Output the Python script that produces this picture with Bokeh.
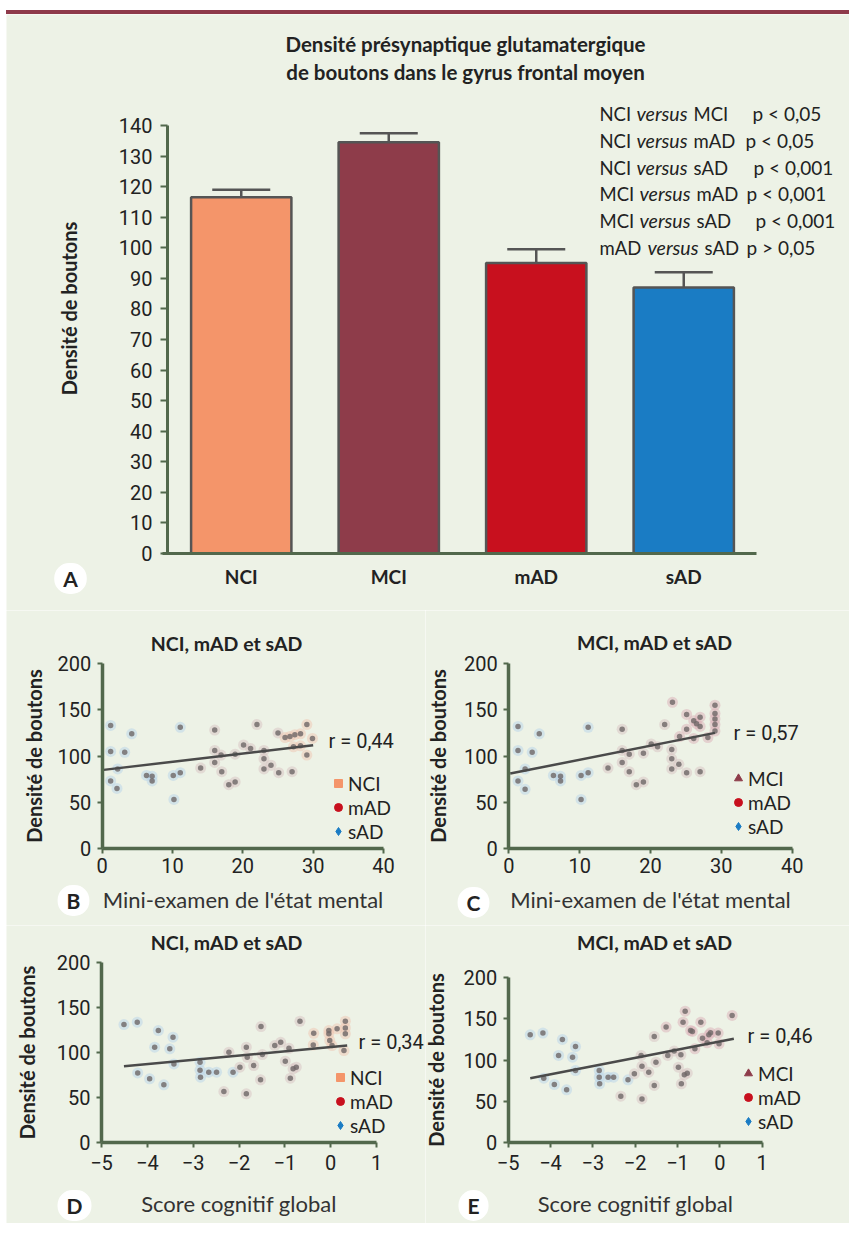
import numpy as np
from bokeh.plotting import figure
from bokeh.models import (Label, Legend, LegendItem, FixedTicker, Range1d, LinearAxis,
                          ColumnDataSource, Div, Whisker, TeeHead)
from bokeh.layouts import column, row
from bokeh.embed import file_html
from bokeh.resources import INLINE

# ---------------- data: panel A ----------------
bar_groups = ["NCI", "MCI", "mAD", "sAD"]
bar_means = [116.5, 134.5, 95.0, 87.0]
bar_sem = [2.5, 3.0, 4.5, 5.0]
bar_yticks = list(range(0, 141, 10))

cmp_first = ["NCI", "NCI", "NCI", "MCI", "MCI", "mAD"]
cmp_second = ["MCI", "mAD", "sAD", "mAD", "sAD", "sAD"]
cmp_pvalue = ["p < 0,05", "p < 0,05", "p < 0,001", "p < 0,001", "p < 0,001", "p > 0,05"]

# ---------------- data: panel B (MMSE, NCI/mAD/sAD) ----------------
b_sad_x = [1.2, 1.2, 1.2, 2.1, 2.2, 3.2, 4.2, 6.3, 7.1, 7.1, 10.1, 10.2, 11.1, 11.1]
b_sad_y = [133, 105, 73, 65, 86, 104, 124, 79, 78, 73, 79, 53, 82, 131]
b_mad_x = [14, 16, 16, 16, 16.9, 17, 18, 18.9, 18.9, 20.1, 21.1, 22, 23, 23, 23, 24, 25, 25.1, 27]
b_mad_y = [87, 128, 106, 93, 101, 83, 69, 72, 102, 112, 108, 134, 106, 97, 86, 90, 125, 82, 83]
b_nci_x = [26, 26.7, 27.4, 28.2, 29.1, 29.1, 29.9, 28.2, 27.2]
b_nci_y = [120, 121, 123, 124, 134, 101, 119, 111, 110]
b_fit_x = [0.2, 30]
b_fit_y = [85, 111.5]
b_r = "r = 0,44"

# ---------------- data: panel C (MMSE, MCI/mAD/sAD) ----------------
c_sad_x = [1.3, 1.3, 1.3, 2.3, 2.3, 3.3, 4.3, 6.3, 7.3, 7.3, 10.2, 10.2, 11.2, 11.2]
c_sad_y = [132, 106, 73, 64, 86, 104, 124, 79, 78, 73, 79, 53, 82, 131]
c_mad_x = [14, 16, 16, 16, 17, 17, 18, 19, 19, 20.1, 21, 22, 23, 23, 23, 24, 25.1, 27]
c_mad_y = [87, 129, 106, 93, 102, 83, 69, 72, 103, 113, 110, 134, 107, 97, 86, 91, 82, 83]
c_mci_x = [23.1, 24.1, 25.1, 25.1, 26.1, 26.1, 26.5, 27, 27, 28.1, 29.1, 29.1, 29.1, 29.1, 29.1]
c_mci_y = [158, 121, 145, 129, 138, 119, 135, 142, 132, 120, 155, 146, 140, 134, 127]
c_fit_x = [0.2, 29.1]
c_fit_y = [81, 125]
c_r = "r = 0,57"

# ---------------- data: panel D (global cognition, NCI/mAD/sAD) ----------------
d_sad_x = [-4.51, -4.22, -4.21, -3.95, -3.84, -3.76, -3.64, -3.51, -3.44, -3.42,
           -2.85, -2.85, -2.84, -2.66, -2.49, -2.13]
d_sad_y = [130.7, 133.3, 77, 70.4, 105.6, 124, 63.7, 103.7, 116.7, 87,
           88.9, 80, 72.2, 77.8, 77.8, 77.8]
d_mad_x = [-2.33, -2.22, -1.98, -1.84, -1.84, -1.82, -1.68, -1.52, -1.49, -1.53,
           -1.22, -1.09, -0.99, -0.91, -0.88, -0.82, -0.75, -0.67]
d_mad_y = [56.3, 100, 83.3, 105.6, 53.7, 94.4, 85.2, 128.5, 97.4, 69.3,
           107.4, 111, 90, 104.4, 71.1, 81.5, 83.3, 134.4]
d_nci_x = [-0.37, -0.38, -0.04, -0.04, -0.02, 0.14, 0.32, 0.32, 0.32, 0.29, 0.03]
d_nci_y = [121, 108, 120.4, 124, 113, 126, 134.4, 127, 120.4, 101.8, 107.4]
d_fit_x = [-4.51, 0.36]
d_fit_y = [84.4, 107.4]
d_r = "r = 0,34"

# ---------------- data: panel E (global cognition, MCI/mAD/sAD) ----------------
e_sad_x = [-4.48, -4.18, -4.16, -3.91, -3.81, -3.72, -3.62, -3.48, -3.41, -3.41,
           -2.85, -2.85, -2.84, -2.64, -2.51, -2.17]
e_sad_y = [130.6, 132.7, 77.9, 70.2, 105.5, 125, 63.7, 103.4, 116.4, 87.2,
           87.2, 79.1, 71, 79.1, 79.1, 75.9]
e_mad_x = [-2.34, -2.02, -1.86, -1.84, -1.84, -1.68, -1.55, -1.51, -1.55, -1.23,
           -1.08, -0.98, -0.92, -0.91, -0.84, -0.77]
e_mad_y = [56, 83.2, 105.5, 92.5, 52.7, 85.2, 128.6, 97.4, 69, 105.5,
           110.8, 91.3, 106.3, 71, 82, 84]
e_mci_x = [-1.27, -0.87, -0.82, -0.69, -0.65, -0.45, -0.41, -0.26, -0.22, -0.04,
           -0.02, 0.29, -0.59, -0.3]
e_mci_y = [140, 146, 159.4, 135.9, 134.7, 146, 126.6, 130.6, 133, 132.7,
           119.7, 154.2, 113.6, 121]
e_fit_x = [-4.48, 0.33]
e_fit_y = [77.9, 125.8]
e_r = "r = 0,46"

mmse_ticks = [0, 10, 20, 30, 40]
score_ticks = [-5, -4, -3, -2, -1, 0, 1]
density_ticks = [0, 50, 100, 150, 200]

# ---------------- styles ----------------
BG = "#edf2e6"
AXIS = "#52684c"
TXT = "#222222"
DIGITS = "Roboto"
SANS = "Lato"
COL = {"NCI": "#f4956a", "MCI": "#8e3c4a", "mAD": "#c8101e", "sAD": "#1a7cc4"}
HALO = {"NCI": "#f0c6b2", "MCI": "#dcb0b8", "mAD": "#d8c2c2", "sAD": "#b8d4ea"}
MARK = {"NCI": "square", "MCI": "triangle", "mAD": "circle", "sAD": "diamond"}


def span(d0, d1, p0, p1, lo, hi):
    """Range whose data d0/d1 fall on pixels p0/p1 of a canvas spanning pixels lo..hi."""
    k = (d1 - d0) / (p1 - p0)
    return d0 + (lo - p0) * k, d0 + (hi - p0) * k


class Panel:
    def __init__(self, left, top, width, height, xmap, ymap):
        self.left, self.top, self.width, self.height = left, top, width, height
        self.bottom = top + height
        xs = span(*xmap, left, left + width)
        ys = span(*ymap, self.bottom, top)
        self.p = figure(width=width, height=height, x_range=Range1d(*xs), y_range=Range1d(*ys),
                        output_backend="svg", toolbar_location=None,
                        x_axis_location=None, y_axis_location=None, min_border=0)
        p = self.p
        p.background_fill_color = BG
        p.border_fill_color = BG
        p.outline_line_color = None
        p.xgrid.visible = False
        p.ygrid.visible = False

    def sx(self, px):
        return px - self.left

    def sy(self, py):
        return self.bottom - py

    def text(self, px, py, text, size, font=SANS, style="normal", align="left",
             baseline="middle", angle=0, color=TXT, **kw):
        lab = Label(x=self.sx(px), y=self.sy(py), x_units="screen", y_units="screen",
                    text=text, text_font=font, text_font_size=f"{size}px",
                    text_font_style=style, text_align=align, text_baseline=baseline,
                    angle=angle, text_color=color, **kw)
        self.p.add_layout(lab)

    def badge(self, px, py, letter):
        self.text(px, py, letter, 21, style="bold", align="center",
                  background_fill_color="white", padding=(9, 3), border_radius=15)


def minus(t):
    return str(t).replace("-", "\u2212")


# ---------------- panel A ----------------
A = Panel(6, 14, 843, 596, (0, 4, 167, 757), (0, 140, 553, 125))
pA = A.p
bar_x = [i + 0.5 for i in range(len(bar_groups))]
bar_src = ColumnDataSource(dict(x=bar_x, m=bar_means,
                                up=[m + e for m, e in zip(bar_means, bar_sem)],
                                c=[COL[g] for g in bar_groups]))
pA.vbar(x="x", top="m", width=0.68, fill_color="c", line_color="#555555", line_width=2.5,
        source=bar_src)
pA.add_layout(Whisker(base="x", upper="up", lower="m", source=bar_src, dimension="height",
                      line_color="#555555", line_width=2.5, lower_head=None,
                      upper_head=TeeHead(size=58, line_color="#555555", line_width=2.5)))

ya = LinearAxis(fixed_location=0, bounds=(0, 140), ticker=FixedTicker(ticks=bar_yticks))
ya.axis_line_color = AXIS
ya.axis_line_width = 3
ya.major_tick_line_color = AXIS
ya.major_tick_line_width = 2
ya.major_tick_out = 7
ya.major_tick_in = 0
ya.minor_tick_line_color = None
ya.major_label_standoff = 8
ya.major_label_text_font = DIGITS
ya.major_label_text_font_size = "20px"
ya.major_label_text_color = TXT
pA.add_layout(ya, "left")

xa = LinearAxis(fixed_location=0, bounds=(-0.035, 3.99), ticker=FixedTicker(ticks=bar_x),
                major_label_overrides={x: g for x, g in zip(bar_x, bar_groups)})
xa.axis_line_color = AXIS
xa.axis_line_width = 3
xa.major_tick_line_color = None
xa.minor_tick_line_color = None
xa.major_label_standoff = 5
xa.major_label_text_font = SANS
xa.major_label_text_font_style = "bold"
xa.major_label_text_font_size = "19px"
xa.major_label_text_color = TXT
pA.add_layout(xa, "below")

A.text(465, 43, "Densité présynaptique glutamatergique", 20.5, style="bold", align="center")
A.text(465, 71, "de boutons dans le gyrus frontal moyen", 20.5, style="bold", align="center")
A.text(68, 308, "Densité de boutons", 20, style="bold", align="center", angle=np.pi / 2)
A.badge(70, 578, "A")

cmp_y = [113, 140, 167, 193, 220, 247]
cmp_vx = [636, 636, 636, 639, 639, 647]
cmp_sx = [693, 693, 693, 696, 696, 704]
cmp_px = [752, 745, 753, 746, 755, 746]
for i in range(len(cmp_first)):
    A.text(599, cmp_y[i], cmp_first[i], 18.5)
    A.text(cmp_vx[i], cmp_y[i], "versus", 19.5, style="italic")
    A.text(cmp_sx[i], cmp_y[i], cmp_second[i], 18.5)
    A.text(cmp_px[i], cmp_y[i], cmp_pvalue[i], 19)


# ---------------- scatter panels ----------------
def scatter_panel(box, xmap, ymap, xr, xticks, xlabel, title, title_xy, series,
                  fit_x, fit_y, rtext, r_xy, legend_groups, legend_xy, badge, badge_xy,
                  ylab_standoff, xtick_standoff, xlab_standoff):
    P = Panel(*box, xmap, ymap)
    p = P.p
    yax = LinearAxis(fixed_location=xr[0], bounds=(0, 200),
                     ticker=FixedTicker(ticks=density_ticks))
    xax = LinearAxis(fixed_location=0, bounds=xr, ticker=FixedTicker(ticks=xticks),
                     major_label_overrides={t: minus(t) for t in xticks})
    for ax in (xax, yax):
        ax.axis_line_color = AXIS
        ax.axis_line_width = 3.5
        ax.major_tick_line_color = AXIS
        ax.major_tick_line_width = 2
        ax.major_tick_out = 5
        ax.major_tick_in = 0
        ax.minor_tick_line_color = None
        ax.major_label_text_font = DIGITS
        ax.major_label_text_font_size = "20px"
        ax.major_label_text_color = TXT
    yax.major_label_standoff = 6
    yax.axis_label = "Densité de boutons"
    yax.axis_label_text_font = SANS
    yax.axis_label_text_font_style = "bold"
    yax.axis_label_text_font_size = "20px"
    yax.axis_label_text_color = TXT
    yax.axis_label_standoff = ylab_standoff
    xax.major_label_standoff = xtick_standoff
    xax.axis_label = xlabel
    xax.axis_label_text_font = SANS
    xax.axis_label_text_font_style = "normal"
    xax.axis_label_text_font_size = "22px"
    xax.axis_label_text_color = "#333333"
    xax.axis_label_standoff = xlab_standoff
    p.add_layout(yax, "left")
    p.add_layout(xax, "below")

    for grp, xs, ys in series:
        p.scatter(xs, ys, size=11, marker="circle", fill_color=HALO[grp], fill_alpha=0.5,
                  line_color=None)
        p.scatter(xs, ys, size=5.5, marker="circle", fill_color="#6e6666", fill_alpha=0.8,
                  line_color=None)
    p.line(fit_x, fit_y, line_color="#4a4a4a", line_width=2.5)

    items = []
    for grp in legend_groups:
        r = p.scatter([np.nan], [np.nan], marker=MARK[grp], fill_color=COL[grp],
                      line_color=COL[grp])
        items.append(LegendItem(label=grp, renderers=[r]))
    leg = Legend(items=items, location=(P.sx(legend_xy[0]), P.sy(legend_xy[1])),
                 padding=0, margin=0, spacing=0,
                 glyph_width=20, glyph_height=24, label_height=24, label_standoff=0,
                 label_text_font=SANS, label_text_font_size="19px", label_text_color=TXT,
                 background_fill_alpha=0, border_line_alpha=0)
    p.add_layout(leg)

    P.text(title_xy[0], title_xy[1], title, 19.5, style="bold", align="center")
    P.text(r_xy[0], r_xy[1], rtext, 20, font=DIGITS)
    P.badge(badge_xy[0], badge_xy[1], badge)
    return p


pB = scatter_panel((6, 610, 419, 315), (0, 40, 101.7, 383), (0, 200, 848, 663), (0, 40),
                   mmse_ticks, "Mini-examen de l'état mental", "NCI, mAD et sAD", (226, 643),
                   [("sAD", b_sad_x, b_sad_y), ("mAD", b_mad_x, b_mad_y), ("NCI", b_nci_x, b_nci_y)],
                   b_fit_x, b_fit_y, b_r, (328, 740), ["NCI", "mAD", "sAD"], (328, 843),
                   "B", (73, 900), 9, 4, 10)
pC = scatter_panel((425, 610, 424, 315), (0, 40, 508.3, 791.7), (0, 200, 848, 663), (0, 40),
                   mmse_ticks, "Mini-examen de l'état mental", "MCI, mAD et sAD", (654, 642),
                   [("sAD", c_sad_x, c_sad_y), ("mAD", c_mad_x, c_mad_y), ("MCI", c_mci_x, c_mci_y)],
                   c_fit_x, c_fit_y, c_r, (733, 732), ["MCI", "mAD", "sAD"], (728, 838),
                   "C", (473, 902), 11, 4, 10)
pD = scatter_panel((6, 925, 419, 298), (-5, 1, 101, 376), (0, 200, 1141.7, 961.7), (-5, 1),
                   score_ticks, "Score cognitif global", "NCI, mAD et sAD", (226, 942),
                   [("sAD", d_sad_x, d_sad_y), ("mAD", d_mad_x, d_mad_y), ("NCI", d_nci_x, d_nci_y)],
                   d_fit_x, d_fit_y, d_r, (358, 1041), ["NCI", "mAD", "sAD"], (330, 1137),
                   "D", (74, 1205), 15, 8, 16)
pE = scatter_panel((425, 925, 424, 298), (-5, 1, 507.7, 761.7), (0, 200, 1141.7, 977.3), (-5, 1),
                   score_ticks, "Score cognitif global", "MCI, mAD et sAD", (654, 942),
                   [("sAD", e_sad_x, e_sad_y), ("mAD", e_mad_x, e_mad_y), ("MCI", e_mci_x, e_mci_y)],
                   e_fit_x, e_fit_y, e_r, (747, 1035), ["MCI", "mAD", "sAD"], (738, 1133),
                   "E", (473, 1205), 13, 8, 16)

band = Div(text="", width=843, height=4, margin=(10, 0, 0, 0),
           styles={"background-color": "#8e3a4a"})
layout = column(band, pA, row(pB, pC, spacing=0), row(pD, pE, spacing=0), spacing=0,
                margin=(0, 0, 0, 6))

open("out.html", "w").write(file_html(layout, INLINE))
